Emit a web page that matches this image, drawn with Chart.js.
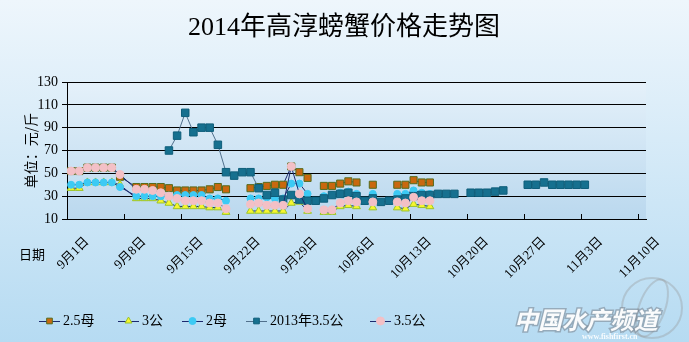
<!DOCTYPE html>
<html>
<head>
<meta charset="utf-8">
<title>2014年高淳螃蟹价格走势图</title>
<script src="https://cdn.jsdelivr.net/npm/chart.js@4.4.1/dist/chart.umd.min.js"></script>
<style>
  html, body { margin: 0; padding: 0; background: #d8eaf7; }
  #wrap { width: 689px; height: 342px; }
</style>
</head>
<body>
<div id="wrap"><canvas id="crabChart" width="689" height="342"></canvas></div>
<script>
// one row per quoted day (no quote on 9/8)
const dates = [
  '9/1', '9/2', '9/3', '9/4', '9/5', '9/6', '9/7',
  '9/9', '9/10', '9/11', '9/12', '9/13', '9/14', '9/15', '9/16', '9/17', '9/18', '9/19', '9/20',
  '9/21', '9/22', '9/23', '9/24', '9/25', '9/26', '9/27', '9/28', '9/29', '9/30',
  '10/1', '10/2', '10/3', '10/4', '10/5', '10/6', '10/7', '10/8', '10/9', '10/10',
  '10/11', '10/12', '10/13', '10/14', '10/15', '10/16', '10/17', '10/18',
  '10/19', '10/20', '10/21', '10/22', '10/23', '10/24', '10/25', '10/26',
  '10/27', '10/28', '10/29', '10/30', '10/31', '11/1', '11/2', '11/3'
];

// 元/斤, null = no quote that day
const female25 = [52, 52, 55, 55, 55, 55, 47,
  38, 38, 38, 38, 37, 35, 35, 35, 35, 36, 38, 36,
  null, null, 37, 38, 39, 40, 40, 56, 51, 46,
  null, 39, 39, 41, 43, 42, null, 40, null, null,
  40, 40, 44, 42, 42];
const male3 = [37, 37, 42, 42, 42, 42, 40,
  28, 28, 28, 26, 24, 21, 21, 21, 21, 20, 20, 16,
  null, null, 17, 17, 17, 17, 17, 24, 25, 17,
  null, 16, 16, 21, 22, 21, null, 20, null, null,
  20, 19, 23, 22, 21];
const female2 = [40, 40, 42, 42, 42, 42, 38,
  30, 30, 30, 30, 30, 31, 31, 31, 31, 28, 28, 26,
  null, null, 28, 28, 29, 28, 28, 41, 41, 32,
  null, 30, 31, 33, 34, 32, null, 32, null, null,
  32, 32, 35, 33, 32];
const male35Last = [null, null, null, null, null, null, null,
  null, null, null, null, 70, 83, 103, 86, 90, 90, 75, 51,
  48, 51, 51, 37, 31, 33, 27, 31, 27, 26,
  26, 28, 31, 32, 33, 30, 26, 28, 25, 26,
  27, 28, 30, 31, 31, 32, 32, 32,
  null, 33, 33, 33, 34, 35, null, null,
  40, 40, 42, 40, 40, 40, 40, 40];
const male35 = [52, 52, 55, 55, 55, 55, 49,
  36, 36, 35, 33, 30, 28, 26, 26, 26, 24, 24, 19,
  null, null, 23, 24, 22, 22, 22, 56, 32, 19,
  null, 18, 18, 24, 26, 25, null, 25, null, null,
  25, 24, 29, 26, 26];

const tickDays = [0, 7, 14, 21, 28, 35, 42, 49, 56, 63, 70];
const tickLabels = ['9月1日', '9月8日', '9月15日', '9月22日', '9月29日', '10月6日',
  '10月13日', '10月20日', '10月27日', '11月3日', '11月10日'];

const SERIF = "'Liberation Serif', 'Noto Sans CJK SC', serif";
const CJK = "'Noto Sans CJK SC', sans-serif";

// days counted from 9/1
function dayOf(label) {
  const [m, d] = label.split('/').map(Number);
  return Math.round((new Date(2014, m - 1, d) - new Date(2014, 8, 1)) / 864e5);
}

function toPoints(values) {
  return values.map((v, i) => ({ x: dayOf(dates[i]), y: v }));
}

const series = [
  { label: '2.5母', data: female25, line: '#1c2a6e', style: 'rect', radius: 5, fill: '#c9680f', edge: '#556b1c', order: 5 },
  { label: '3公', data: male3, line: '#1c2a6e', style: 'triangle', radius: 4.5, fill: '#f6f52e', edge: '#9bc42a', order: 4 },
  { label: '2母', data: female2, line: '#1c2a6e', style: 'circle', radius: 3.5, fill: '#3ccaf4', edge: '#3ccaf4', order: 3 },
  { label: '2013年3.5公', data: male35Last, line: '#51708c', style: 'rect', radius: 5.3, fill: '#16708f', edge: '#0f5e7a', order: 2 },
  { label: '3.5公', data: male35, line: '#1c2a6e', style: 'circle', radius: 4, fill: '#f3c0c6', edge: '#f3c0c6', order: 1 }
];

const datasets = series.map(s => ({
  label: s.label,
  data: toPoints(s.data),
  borderColor: s.line,
  borderWidth: 1,
  tension: 0,
  fill: false,
  spanGaps: false,
  pointStyle: s.style,
  pointRadius: s.radius,
  pointBackgroundColor: s.fill,
  pointBorderColor: s.edge,
  pointBorderWidth: 1,
  order: s.order
}));

// backgrounds, titles, inner x ticks, legend and watermark
const decorations = {
  id: 'decorations',
  beforeDraw(chart) {
    const { ctx, chartArea: a } = chart;
    ctx.save();
    let g = ctx.createLinearGradient(0, 0, 0, chart.height);
    g.addColorStop(0, '#eef6fc');
    g.addColorStop(1, '#b6dbf2');
    ctx.fillStyle = g;
    ctx.fillRect(0, 0, chart.width, chart.height);
    g = ctx.createLinearGradient(0, a.top, 0, a.bottom);
    g.addColorStop(0, '#e5f1fa');
    g.addColorStop(1, '#bad8ee');
    ctx.fillStyle = g;
    ctx.fillRect(a.left, a.top, a.right - a.left, a.bottom - a.top);
    ctx.restore();
  },
  afterDraw(chart) {
    const { ctx, chartArea: a } = chart;
    const x = chart.scales.x;
    ctx.save();

    // short tick marks pointing into the plot
    ctx.strokeStyle = '#000';
    ctx.lineWidth = 1;
    tickDays.forEach(d => {
      const px = Math.round(x.getPixelForValue(d - 0.5)) + 0.5;
      ctx.beginPath();
      ctx.moveTo(px, a.bottom);
      ctx.lineTo(px, a.bottom - 5);
      ctx.stroke();
    });

    // title
    ctx.fillStyle = '#000';
    ctx.textAlign = 'center';
    ctx.textBaseline = 'middle';
    ctx.font = '26px ' + SERIF;
    ctx.fillText('2014年高淳螃蟹价格走势图', 344, 28);

    // x axis caption
    ctx.font = '13px ' + CJK;
    ctx.textAlign = 'left';
    ctx.fillText('日期', 19, 254);

    // legend
    const slots = [39, 118, 182, 246, 370];
    ctx.font = '14px ' + SERIF;
    ctx.textBaseline = 'middle';
    series.forEach((s, i) => {
      const lx = slots[i];
      const ly = 321;
      ctx.strokeStyle = s.line;
      ctx.beginPath();
      ctx.moveTo(lx, ly + 0.5);
      ctx.lineTo(lx + 21, ly + 0.5);
      ctx.stroke();
      const r = Math.min(s.radius, 4);
      ctx.fillStyle = s.fill;
      ctx.strokeStyle = s.edge;
      Chart.helpers.drawPoint(ctx, { pointStyle: s.style, radius: r, borderWidth: 1, rotation: 0 }, lx + 10.5, ly);
      ctx.fillStyle = '#000';
      ctx.fillText(s.label, lx + 24, ly);
    });

    // watermark
    ctx.strokeStyle = 'rgba(150, 150, 150, 0.35)';
    ctx.lineWidth = 2;
    ctx.beginPath();
    ctx.arc(652, 308, 30, 0, Math.PI * 2);
    ctx.stroke();
    ctx.beginPath();
    ctx.ellipse(652, 308, 13, 30, 0.35, 0, Math.PI * 2);
    ctx.stroke();
    ctx.font = 'italic bold 24px ' + CJK;
    ctx.textAlign = 'left';
    ctx.textBaseline = 'alphabetic';
    ctx.lineWidth = 3;
    ctx.strokeStyle = 'rgba(120, 130, 140, 0.55)';
    ctx.strokeText('中国水产频道', 514, 329);
    ctx.fillStyle = 'rgba(255, 255, 255, 0.95)';
    ctx.fillText('中国水产频道', 514, 329);
    ctx.font = 'bold 8px ' + SERIF;
    ctx.fillStyle = 'rgba(255, 255, 255, 0.9)';
    ctx.fillText('www.fishfirst.cn', 582, 339);
    ctx.restore();
  }
};

new Chart(document.getElementById('crabChart'), {
  type: 'line',
  data: { datasets },
  options: {
    responsive: false,
    animation: false,
    events: [],
    layout: { padding: { left: 0, right: 43, top: 82, bottom: 0 } },
    plugins: {
      legend: { display: false },
      tooltip: { enabled: false },
      title: { display: false }
    },
    scales: {
      x: {
        type: 'linear',
        min: -0.5,
        max: 70.5,
        afterBuildTicks: scale => { scale.ticks = tickDays.map(d => ({ value: d - 0.5 })); },
        afterFit: scale => { scale.height = 123; },
        grid: { display: false, drawTicks: false },
        border: { display: true, color: '#000', width: 1 },
        ticks: {
          autoSkip: false,
          minRotation: 45,
          maxRotation: 45,
          padding: 15,
          labelOffset: 20,
          color: '#000',
          font: { family: SERIF, size: 13 },
          callback: (value, index) => tickLabels[index]
        }
      },
      y: {
        min: 10,
        max: 130,
        afterFit: scale => { scale.width = 67; },
        grid: { color: '#000', lineWidth: 1, tickLength: 5, drawTicks: true },
        border: { display: true, color: '#000', width: 1 },
        ticks: {
          stepSize: 20,
          padding: 4,
          color: '#000',
          font: { family: SERIF, size: 14 }
        },
        title: {
          display: true,
          text: '单位：元/斤',
          color: '#000',
          font: { family: CJK, size: 14 },
          padding: { top: 22, bottom: 0 }
        }
      }
    }
  },
  plugins: [decorations]
});
</script>
</body>
</html>
